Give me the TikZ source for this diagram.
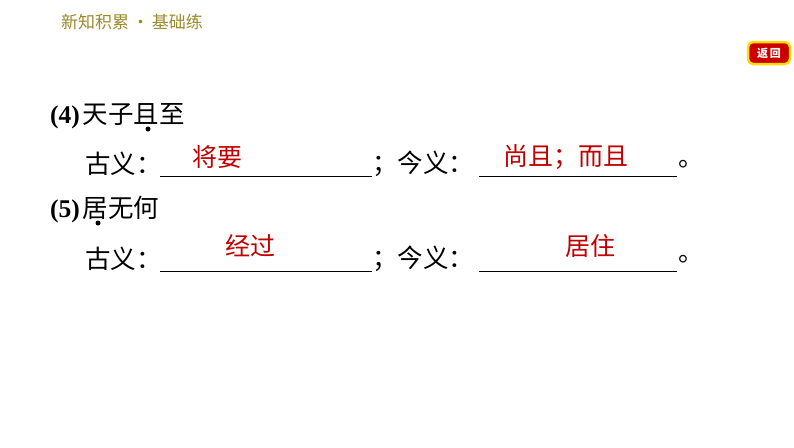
\documentclass[tikz,border=0pt]{standalone}
\usepackage{fontspec}
\newfontfamily\cjk{Noto Sans CJK SC}
\setmainfont{Liberation Serif}
\definecolor{hdr}{HTML}{9B8A2A}
\definecolor{ans}{HTML}{C00000}
\begin{document}
\begin{tikzpicture}[x=1pt,y=-1pt,
  txt/.style={anchor=west,inner sep=0pt,font=\cjk\fontsize{25.5}{25.5}\selectfont},
  red/.style={anchor=center,inner sep=0pt,text=ans,font=\cjk\fontsize{25}{25}\selectfont},
  uline/.style={line width=1pt},
  emdot/.style={circle,fill=black,inner sep=0pt,minimum size=5pt}]
\useasboundingbox (0,0) rectangle (794,447);
\node[anchor=west,inner sep=0pt,text=hdr,font=\cjk\fontsize{17}{17}\selectfont] (h) at (61,22) {新知积累\,·\,基础练};
\node[draw=yellow!80!orange,line width=2.5pt,fill=red!80!black,rounded corners=5pt,minimum width=42pt,minimum height=22pt,inner sep=0pt,text=white,font=\cjk\bfseries\fontsize{11}{11}\selectfont] (btn) at (769,53) {返\,回};
\node[txt] (l1) at (50,116) {{\rmfamily\bfseries (4)}\kern3pt 天子且至};
\node[emdot] (d1) at (148,129) {};
\node[txt] (a1) at (85,164) {古义：};
\coordinate (u1a) at (160,176); \coordinate (u1b) at (372,176);
\draw[uline] (u1a) -- (u1b);
\node[txt] (s1) at (372,164) {；今义：};
\coordinate (u2a) at (479,176); \coordinate (u2b) at (677,176);
\draw[uline] (u2a) -- (u2b);
\node[txt] (e1) at (678,164) {。};
\node[red] (r1) at (217,157) {将要};
\node[red] (r2) at (566,157) {尚且；而且};
\node[txt] (l2) at (50,210) {{\rmfamily\bfseries (5)}\kern3pt 居无何};
\node[emdot] (d2) at (98,223) {};
\node[txt] (a2) at (85,259) {古义：};
\coordinate (u3a) at (160,271); \coordinate (u3b) at (372,271);
\draw[uline] (u3a) -- (u3b);
\node[txt] (s2) at (372,259) {；今义：};
\coordinate (u4a) at (479,271); \coordinate (u4b) at (677,271);
\draw[uline] (u4a) -- (u4b);
\node[txt] (e2) at (678,259) {。};
\node[red] (r3) at (250,246) {经过};
\node[red] (r4) at (590,246) {居住};
\end{tikzpicture}
\end{document}
